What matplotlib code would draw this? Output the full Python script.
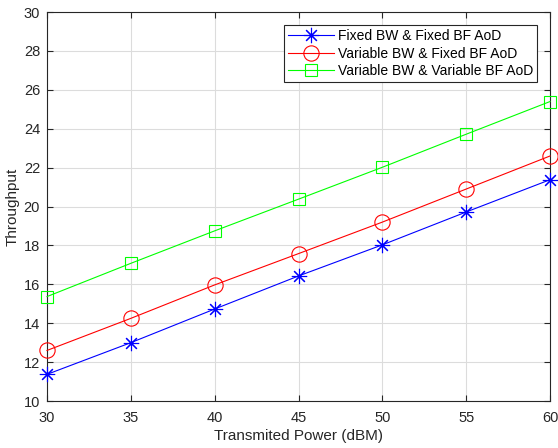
import matplotlib
matplotlib.use("Agg")
import matplotlib.pyplot as plt

plt.rcParams['font.family'] = ['Liberation Sans', 'DejaVu Sans']

power = [30, 35, 40, 45, 50, 55, 60]
fixed_fixed = [11.37, 13.0, 14.73, 16.43, 18.03, 19.72, 21.38]
var_fixed = [12.6, 14.25, 15.97, 17.58, 19.2, 20.9, 22.6]
var_var = [15.37, 17.08, 18.75, 20.38, 22.02, 23.72, 25.4]
labels = ['Fixed BW & Fixed BF AoD', 'Variable BW & Fixed BF AoD',
          'Variable BW & Variable BF AoD']

fig = plt.figure(figsize=(5.58, 4.48), dpi=100)
ax = fig.add_axes([0.0842, 0.1049, 0.9015, 0.8681])

ax.plot(power, fixed_fixed, color='#0000ff', lw=0.8, marker=(8, 2, 0), ms=11, mew=0.8,
        label=labels[0], clip_on=False, zorder=3)
ax.plot(power, var_fixed, color='#ff0000', lw=0.8, marker='o', ms=11, mew=0.8, mfc='none',
        label=labels[1], clip_on=False, zorder=3)
ax.plot(power, var_var, color='#00ff00', lw=0.8, marker='s', ms=8.5, mew=0.8, mfc='none',
        label=labels[2], clip_on=False, zorder=3)

ax.set_xlim(30, 60)
ax.set_ylim(10, 30)
ax.set_xticks(range(30, 61, 5))
ax.set_yticks(range(10, 31, 2))
ax.grid(True, color='#dcdcdc', lw=0.8)
ax.set_axisbelow(True)
for s in ax.spines.values():
    s.set_color('#262626')
    s.set_linewidth(0.8)
ax.tick_params(direction='in', top=True, right=True, labelsize=10.5, colors='#262626', length=4)
ax.tick_params(axis='x', pad=7)
ax.tick_params(axis='y', pad=5)
ax.set_xlabel('Transmited Power (dBM)', fontsize=11, color='#262626', labelpad=3)
ax.set_ylabel('Throughput', fontsize=11, color='#262626', labelpad=3)

leg = ax.legend(loc='upper right', bbox_to_anchor=(0.975, 0.967), fontsize=10, fancybox=False,
                edgecolor='#262626', framealpha=1, borderpad=0.3, labelspacing=0.25,
                handlelength=3.3, handletextpad=0.3, borderaxespad=0)
leg.get_frame().set_linewidth(0.8)

fig.savefig('out.png', dpi=100)
